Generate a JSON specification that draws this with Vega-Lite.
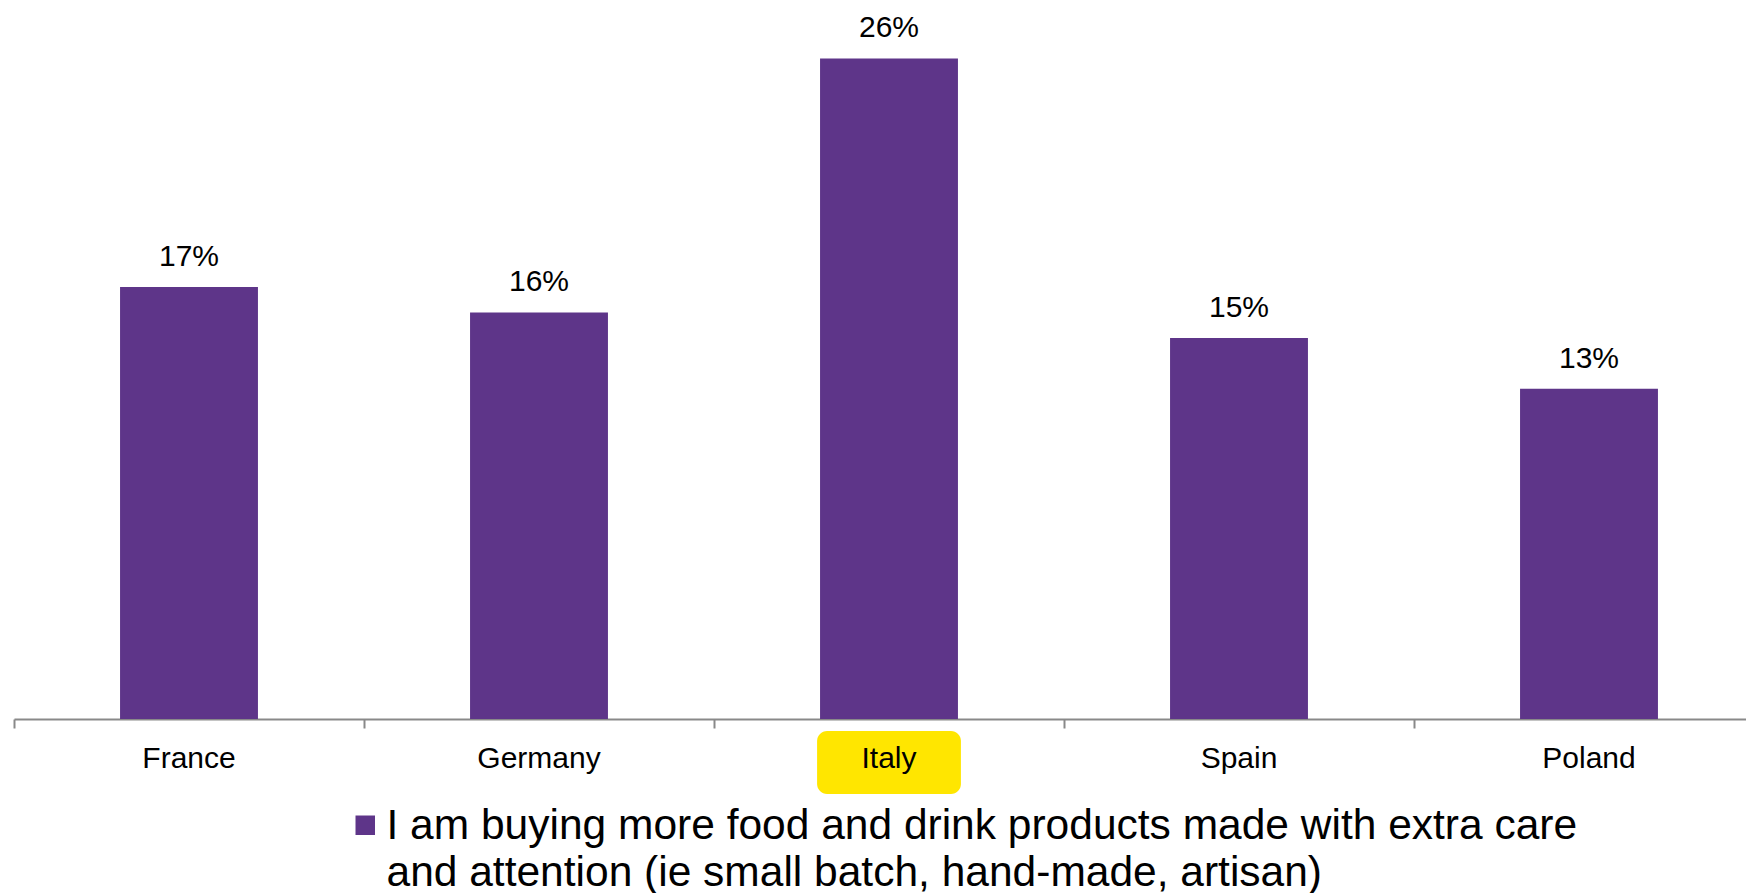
{
  "$schema": "https://vega.github.io/schema/vega-lite/v6.json",
  "width": 1732,
  "height": 719,
  "autosize": {"type": "none"},
  "padding": {"left": 14, "top": 0, "right": 0, "bottom": 174},
  "background": "white",
  "config": {"view": {"stroke": null}, "font": "Liberation Sans"},
  "data": {"values": [
    {"country": "France", "value": 0.17, "series": "I am buying more food and drink products made with extra care and attention (ie small batch, hand-made, artisan)"},
    {"country": "Germany", "value": 0.16, "series": "I am buying more food and drink products made with extra care and attention (ie small batch, hand-made, artisan)"},
    {"country": "Italy", "value": 0.26, "series": "I am buying more food and drink products made with extra care and attention (ie small batch, hand-made, artisan)"},
    {"country": "Spain", "value": 0.15, "series": "I am buying more food and drink products made with extra care and attention (ie small batch, hand-made, artisan)"},
    {"country": "Poland", "value": 0.13, "series": "I am buying more food and drink products made with extra care and attention (ie small batch, hand-made, artisan)"}
  ]},
  "encoding": {
    "x": {"field": "country", "type": "nominal", "sort": ["France", "Germany", "Italy", "Spain", "Poland"],
      "scale": {"range": [0, 1750], "paddingInner": 0.606, "paddingOuter": 0.303}},
    "y": {"field": "value", "type": "quantitative", "scale": {"domain": [0, 0.283]}, "axis": null}
  },
  "layer": [
    {
      "transform": [{"filter": "datum.country === 'Italy'"}],
      "mark": {"type": "bar", "color": "#FFE600", "cornerRadius": 10, "width": {"band": 1.043}},
      "encoding": {
        "x": {"field": "country", "type": "nominal", "sort": ["France", "Germany", "Italy", "Spain", "Poland"], "axis": null},
        "y": {"datum": -0.0047},
        "y2": {"datum": -0.0295}
      }
    },
    {
      "mark": {"type": "bar"},
      "encoding": {
        "x": {"field": "country", "type": "nominal", "sort": ["France", "Germany", "Italy", "Spain", "Poland"],
          "axis": {"orient": "bottom", "title": null, "labels": false, "ticks": true, "tickSize": 9, "tickWidth": 2, "bandPosition": 0, "tickOffset": -106, "domainColor": "#898989", "tickColor": "#898989", "domainWidth": 2}},
        "color": {"field": "series", "type": "nominal",
          "scale": {"range": ["#5E3589"]},
          "legend": {"orient": "none", "legendX": 330, "legendY": 804, "title": null, "padding": 0, "symbolType": "square", "symbolSize": 380, "symbolStrokeWidth": 0, "labelFontSize": 42.5, "labelFont": "Liberation Sans", "labelColor": "black", "labelLimit": 0, "labelOffset": 0, "labelBaseline": "top",
            "labelExpr": "[substring(datum.label, 0, indexof(datum.label, ' and attention')), substring(datum.label, indexof(datum.label, ' and attention') + 1)]",
            "encoding": {"labels": {"lineHeight": {"value": 47}, "dy": {"value": -20}}}}}
      }
    },
    {
      "mark": {"type": "text", "fontSize": 30, "dy": -21, "baseline": "alphabetic", "color": "black", "font": "Liberation Sans"},
      "encoding": {
        "x": {"field": "country", "type": "nominal", "sort": ["France", "Germany", "Italy", "Spain", "Poland"],
          "axis": {"orient": "bottom", "title": null, "labels": true, "ticks": false, "domain": false, "labelFontSize": 30, "labelFont": "Liberation Sans", "labelColor": "black", "labelAngle": 0, "labelPadding": 24, "zindex": 1}},
        "text": {"field": "value", "type": "quantitative", "format": ".0%"}
      }
    }
  ],
  "resolve": {"axis": {"x": "independent"}}
}
